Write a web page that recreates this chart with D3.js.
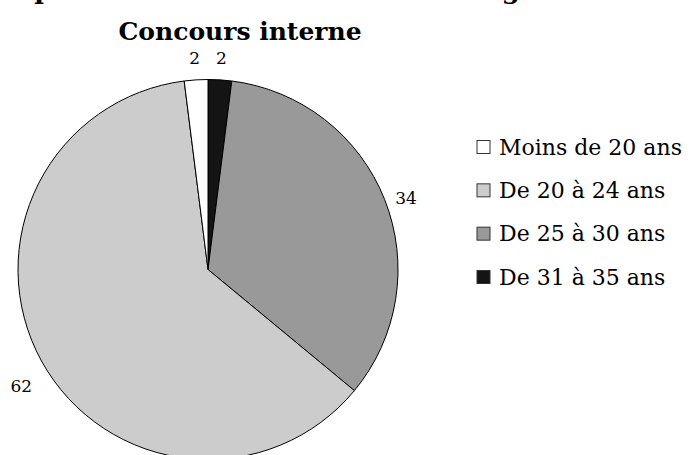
<!DOCTYPE html>
<html>
<head>
<meta charset="utf-8">
<script src="https://cdn.jsdelivr.net/npm/d3@7"></script>
<style>
  body { margin: 0; background: #fff; }
  svg { display: block; font-family: "DejaVu Serif", serif; }
</style>
</head>
<body>
<div id="app"></div>
<script>
`use strict`;

// categories in legend order
const Ages = [`Moins de 20 ans`, `De 20 à 24 ans`, `De 25 à 30 ans`, `De 31 à 35 ans`];
const Values = [2, 62, 34, 2];
const Fills = [`#ffffff`, `#cccccc`, `#999999`, `#141414`];

const W = 695, H = 455;
const CX = 208, CY = 269.5, R = 190;

let SVG = d3.select(`#app`).append(`svg`).attr(`width`, W).attr(`height`, H);

// main title, cut off by the top edge as in the source picture
SVG.append(`text`)
  .attr(`x`, -4).attr(`y`, -1)
  .attr(`font-size`, `26px`).attr(`font-weight`, `bold`)
  .text(`Répartition des candidats selon l'âge`);

SVG.append(`text`)
  .attr(`x`, 240).attr(`y`, 40)
  .attr(`text-anchor`, `middle`)
  .attr(`font-size`, `25px`).attr(`font-weight`, `bold`)
  .text(`Concours interne`);

// slices run clockwise from the top in reverse legend order
let Rows = Ages.map((a, i) => ({age: a, value: Values[i], fill: Fills[i]})).reverse();

let pie = d3.pie().sort(null).value(d => d.value),
    arc = d3.arc().innerRadius(0).outerRadius(R);

let G = SVG.append(`g`).attr(`transform`, `translate(${CX},${CY})`);

G.selectAll(`path`).data(pie(Rows)).enter().append(`path`)
  .attr(`d`, arc)
  .attr(`fill`, d => d.data.fill)
  .attr(`stroke`, `#000`)
  .attr(`stroke-width`, 1);

// value labels outside the rim (label boxes sit a bit further out vertically)
const RX = 213, RY = 222, DY = 10;

G.selectAll(`text.lab`).data(pie(Rows)).enter().append(`text`)
  .attr(`class`, `lab`)
  .attr(`font-size`, `17px`)
  .attr(`text-anchor`, `middle`)
  .attr(`dominant-baseline`, `central`)
  .attr(`x`, d => Math.sin((d.startAngle + d.endAngle) / 2) * RX)
  .attr(`y`, d => -Math.cos((d.startAngle + d.endAngle) / 2) * RY + DY)
  .text(d => d.data.value);

// legend
let yL = d3.scalePoint().domain(Ages).range([147, 277]);

let L = SVG.append(`g`);

L.selectAll(`rect`).data(Ages).enter().append(`rect`)
  .attr(`x`, 477).attr(`y`, d => yL(d) - 6.5)
  .attr(`width`, 13).attr(`height`, 13)
  .attr(`fill`, (d, i) => Fills[i])
  .attr(`stroke`, `#333`).attr(`stroke-width`, 1);

L.selectAll(`text`).data(Ages).enter().append(`text`)
  .attr(`x`, 499).attr(`y`, d => yL(d))
  .attr(`dominant-baseline`, `central`)
  .attr(`font-size`, `22px`)
  .text(d => d);
</script>
</body>
</html>
